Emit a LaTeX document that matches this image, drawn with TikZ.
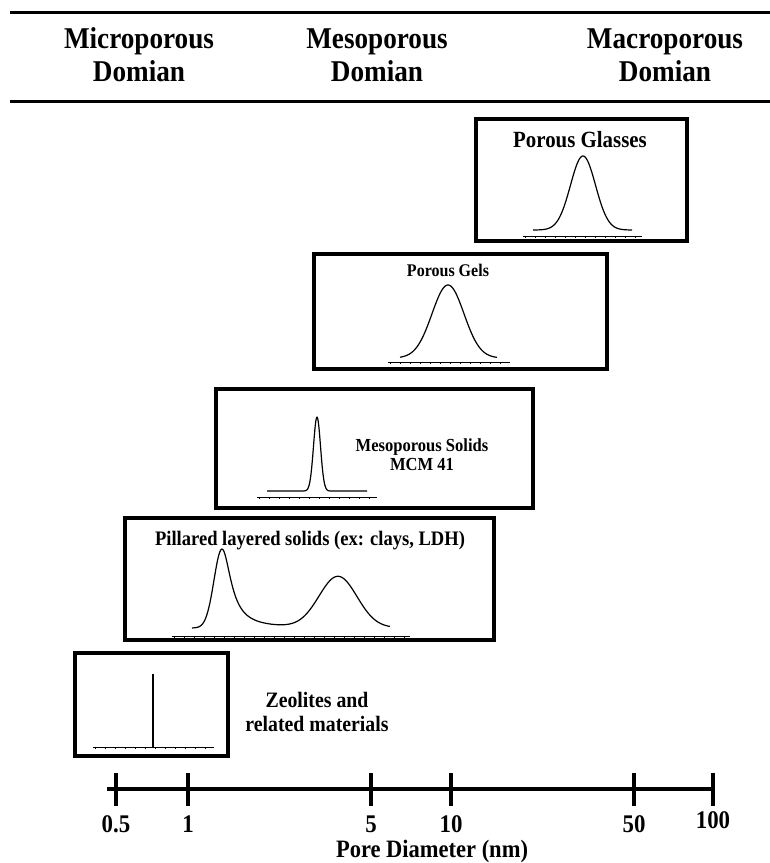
\documentclass[tikz,border=0pt]{standalone}
\usepackage{fontspec}
\setmainfont{Liberation Serif}[FakeStretch=0.9]
\usetikzlibrary{fit}
\tikzset{
  % boxes, curves and texts of the pore size chart
  panel/.style={draw,line width=1.6pt,inner sep=0pt},
  title/.style 2 args={font=\bfseries\fontsize{#1}{#2}\selectfont,align=center},
  domain label/.style={font=\bfseries\fontsize{15.1}{16.5}\selectfont,align=center},
  curve/.style={line width=0.6pt,samples=200,smooth},
  scale line/.style={line width=0.5pt},
  tick label/.style={font=\bfseries\fontsize{12.7}{14}\selectfont}
}
% thin scale under each distribution: a line with small ticks
\newcommand{\poreaxis}[3]{%
  \draw[scale line] (#1,#3) -- (#2,#3);
  \draw[line width=1pt,dash pattern=on 0.5pt off 4.5pt] (#1+2,#3+1) -- (#2,#3+1);}

\begin{document}
\begin{tikzpicture}[x=0.5pt,y=-0.5pt]
  \useasboundingbox (0,0) rectangle (770,863);
  % header with the three domains
  \draw[line width=1.5pt] (10,12) -- (770,12);
  \draw[line width=1.5pt] (10,101) -- (770,101);
  \node[domain label] (micro) at (139,55) {Microporous\\Domian};
  \node[domain label] (meso) at (377,55) {Mesoporous\\Domian};
  \node[domain label] (macro) at (665,55) {Macroporous\\Domian};
  % porous glasses
  \node[panel,fit={(476,119) (687,241)}] (glass) {};
  \node[title={11.6}{13}] (glass title) at (580,140) {Porous Glasses};
  \draw[curve,domain=533:632] plot (\x,{230-74*exp(-min(((\x-583)/12.5)^2/2,9))});
  \poreaxis{523}{642}{236}
  % porous gels
  \node[panel,fit={(314,254) (607,369)}] (gel) {};
  \node[title={8.9}{10}] (gel title) at (448,270) {Porous Gels};
  \draw[curve,domain=400:497] plot (\x,{358-73*exp(-min(((\x-448)/16)^2/2,9))});
  \poreaxis{388}{510}{362}
  % mesoporous solids
  \node[panel,fit={(216,389) (533,508)}] (mcm) {};
  \node[title={9.2}{9.6}] (mcm title) at (422,455) {Mesoporous Solids\\MCM 41};
  \draw[curve,domain=267:367] plot (\x,{491-74*exp(-min(((\x-317)/3.5)^2/2,9))});
  \poreaxis{257}{377}{497}
  % pillared layered solids
  \node[panel,fit={(125,518) (494,640)}] (pillar) {};
  \node[title={10.3}{11}] (pillar title) at (310,541) {Pillared layered solids (ex: clays, LDH)};
  \draw[curve,domain=192:390] plot (\x,{628-((\x<222) ? 79*exp(-min(((\x-222)/8)^2/2,9)) : 79/(1+((\x-222)/11)^2))-51*exp(-min(((\x-338)/19)^2/2,9))});
  \poreaxis{172}{410}{636}
  % zeolites
  \node[panel,fit={(75,653) (228,756)}] (zeo) {};
  \node[title={11}{11.6}] (zeo title) at (317,712) {Zeolites and\\related materials};
  \coordinate (spike) at (153,674);
  \coordinate (spike foot) at (153,747);
  \draw[curve] (spike) -- (spike foot);
  \poreaxis{93}{214}{747}
  % pore diameter axis
  \coordinate (axis start) at (107,789);
  \coordinate (axis end) at (714,789);
  \draw[line width=1.7pt] (axis start) -- (axis end);
  \foreach \pos/\val/\lift [count=\i] in {116/0.5/0,188/1/0,371/5/0,451/10/0,634/50/0,713/100/4}{
    \draw[line width=1.7pt] (\pos,773) -- (\pos,806);
    \node[tick label] (tick\i) at (\pos,824-\lift) {\val};
  }
  \node[title={12.5}{14}] (axis title) at (432,851) {Pore Diameter (nm)};
\end{tikzpicture}
\end{document}
